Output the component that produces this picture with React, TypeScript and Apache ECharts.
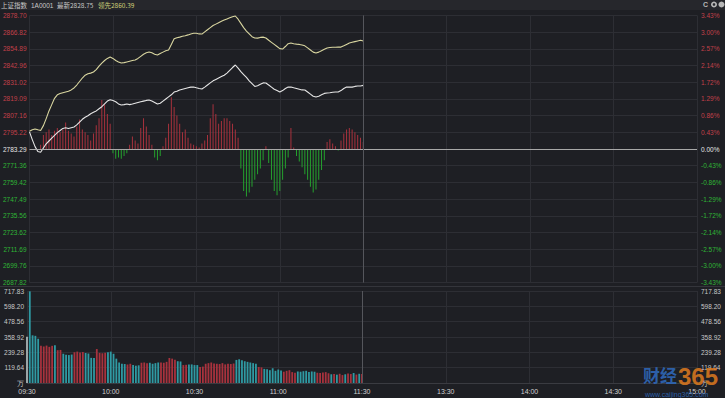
import React, { useEffect, useRef } from "react";
import * as echarts from "echarts";

const PREV_CLOSE = 2783.29;
const STEP = 11.93;
const VOL_MAX = 717.83;

const priceTicks = ["2687.82", "2699.76", "2711.69", "2723.62", "2735.56", "2747.49", "2759.42", "2771.36", "2783.29", "2795.22", "2807.16", "2819.09", "2831.02", "2842.96", "2854.89", "2866.82", "2878.70"];
const pctTicks = ["-3.43%", "-3.00%", "-2.57%", "-2.14%", "-1.72%", "-1.29%", "-0.86%", "-0.43%", "0.00%", "0.43%", "0.86%", "1.29%", "1.72%", "2.14%", "2.57%", "3.00%", "3.43%"];
const volTicks = ["万", "119.64", "239.28", "358.92", "478.56", "598.20", "717.83"];
const timeTicks = ["09:30", "10:00", "10:30", "11:00", "11:30", "13:30", "14:00", "14:30", "15:00"];

// 上证指数 minute price, 09:30 - 11:30
const priceLine = [
  2795.5, 2790, 2785, 2781.5, 2781, 2784, 2787, 2789, 2791, 2793,
  2795, 2796.5, 2798, 2798.5, 2798, 2798.5, 2799, 2800.5, 2802.5, 2804.5,
  2806, 2807, 2808.5, 2809.5, 2810.5, 2812, 2813.5, 2815.5, 2817.5, 2818.5,
  2818, 2817, 2815.5, 2814.7, 2815, 2815.5, 2815, 2815.4, 2816, 2816.5,
  2817, 2817.5, 2818, 2818.3, 2817.5, 2816.5, 2815.4, 2816, 2817.5, 2819,
  2820.5, 2822, 2824, 2824.5, 2825.5, 2826, 2826.5, 2827, 2827.5, 2827.6,
  2827, 2826.5, 2826.1, 2827.5, 2829, 2830.5, 2832, 2833, 2834, 2835,
  2836, 2837.5, 2839.5, 2841.5, 2843.3, 2841, 2838.5, 2836.5, 2834.5, 2832,
  2830, 2828, 2828.5, 2829.5, 2830.5, 2830.4, 2829, 2827.5, 2826, 2825,
  2824, 2825, 2826.5, 2827.5, 2827.6, 2827, 2826.5, 2826, 2825.5, 2825.4,
  2824, 2822.5, 2821, 2820.4, 2821, 2822, 2823, 2823.3, 2823.5, 2823.8,
  2824, 2824, 2825, 2826.5, 2827.5, 2827.6, 2827.5, 2828, 2828.3, 2828.3,
  2828.75
];

// 领先指标
const leadLine = [
  2796, 2797, 2797.6, 2797, 2796.5, 2800, 2805, 2810.5, 2815, 2819.5,
  2822, 2823, 2823.5, 2824, 2824.5, 2825.5, 2826.9, 2829, 2831.5, 2834,
  2836, 2837, 2837.5, 2838.3, 2840, 2842.5, 2844.7, 2846.5, 2848, 2849,
  2848, 2846.5, 2845.5, 2844.7, 2845, 2845.5, 2846, 2846.5, 2846.9, 2848,
  2849.5, 2851, 2852, 2852.6, 2852, 2851, 2850.4, 2851.5, 2852.5, 2853.5,
  2854, 2858, 2862, 2862.8, 2863.2, 2863.8, 2864.2, 2864.8, 2865.5, 2866,
  2866, 2865.5, 2865.4, 2867, 2868.5, 2870, 2871.5, 2872.5, 2873.5, 2874.5,
  2875.4, 2876.2, 2877, 2877.8, 2878.3, 2876, 2873, 2870, 2867.5, 2865.5,
  2863.5, 2862.6, 2862.5, 2863, 2863.2, 2862.6, 2861, 2859.5, 2858, 2856.5,
  2855, 2854.7, 2856.5, 2858.5, 2859, 2858.5, 2858.2, 2858, 2857.6, 2857,
  2855.5, 2854, 2852.5, 2851.9, 2852.5, 2853.5, 2854.5, 2855.4, 2855.8, 2856,
  2856, 2856.1, 2856.1, 2857, 2858, 2859, 2859.5, 2860, 2860.5, 2861,
  2860.39
];

// red / green strength bars (index points from the previous close)
const force = [
  0, 0, 0, 0, 3, 10, 12, 14, 10, 13,
  15, 12, 14, 19, 13, 11, 9, 16, 21, 14,
  12, 10, 6, 11, 17, 22, 35, 32, 25, 18,
  -3, -7, -6, -7, -5, -3, 3, 9, 6, 4,
  15, 22, 16, 10, 3, -6, -8, -5, 2, 8,
  18, 37, 30, 24, 18, 12, 14, 8, 4, 3,
  2, 1, 4, 6, 10, 22, 32, 25, 18, 20,
  22, 22, 20, 18, 14, 8, -14, -30, -34, -31,
  -27, -22, -18, -14, -8, 2, -10, -22, -30, -33,
  -30, -22, -14, -6, 15, 1, -5, -9, -13, -18,
  -22, -27, -31, -29, -22, -15, -8, 5, 7, 4,
  2, -1, 6, 11, 14, 15, 14, 12, 10, 8,
  5
];

// volume (万)
const volume = [
  360, 715, 372, 368, 345, 290, 285, 292, 282, 290,
  294, 256, 258, 228, 220, 218, 222, 240, 245, 238,
  242, 234, 230, 196, 195, 265, 235, 232, 236, 240,
  245, 228, 190, 160, 150, 148, 145, 150, 140, 135,
  138, 158, 160, 155, 158, 150, 155, 160, 160, 158,
  165, 195, 190, 182, 170, 168, 140, 142, 145, 145,
  140, 140, 125, 128, 150, 155, 160, 152, 150, 148,
  155, 145, 150, 148, 152, 180, 185, 178, 170, 165,
  160, 155, 150, 125, 122, 110, 108, 100, 115, 95,
  105, 98, 88, 95, 100, 85, 80, 90, 88, 92,
  95, 85, 90, 88, 80, 78, 82, 85, 76, 68,
  70, 65, 72, 62, 68, 75, 70, 78, 66, 72,
  70
];

// 1 = up (red), 0 = down (teal), 2 = neutral
const volDir = [
  2, 0, 0, 0, 0, 1, 1, 1, 1, 1,
  0, 1, 1, 0, 0, 0, 0, 1, 1, 1,
  1, 0, 0, 0, 0, 1, 1, 1, 1, 0,
  0, 0, 0, 0, 0, 0, 1, 1, 0, 0,
  0, 1, 1, 1, 0, 0, 0, 0, 1, 1,
  1, 1, 1, 1, 0, 0, 1, 1, 0, 0,
  0, 0, 1, 1, 1, 1, 1, 1, 1, 1,
  1, 1, 1, 1, 1, 0, 0, 0, 0, 0,
  0, 0, 0, 1, 1, 0, 0, 0, 0, 0,
  0, 0, 1, 1, 1, 1, 1, 0, 0, 0,
  0, 0, 0, 0, 1, 1, 1, 1, 1, 0,
  1, 0, 1, 1, 0, 1, 1, 0, 1, 0,
  1
];

const BG = "#1e1f24";
const GRID = "#2d2e34";
const RED = "#c2404a";
const GREEN = "#2fb536";
const BAR_RED = "#a8323d";
const BAR_GREEN = "#25a12e";
const TEAL = "#2f9aa3";
const FONT = "'Liberation Sans', Arial, sans-serif";

function buildTimes(): string[] {
  const out: string[] = [];
  const pad = (n: number) => (n < 10 ? "0" + n : "" + n);
  for (let m = 9 * 60 + 30; m <= 11 * 60 + 30; m++) out.push(pad(Math.floor(m / 60)) + ":" + pad(m % 60));
  for (let m = 13 * 60 + 1; m <= 15 * 60; m++) out.push(pad(Math.floor(m / 60)) + ":" + pad(m % 60));
  return out;
}

export default function App() {
  const ref = useRef<HTMLDivElement>(null);
  useEffect(() => {
    if (!ref.current) return;
    const chart = echarts.init(ref.current, null, { renderer: "svg" });
    const times = buildTimes();
    const tickIdx = (i: number) => i % 30 === 0;
    const volStep = VOL_MAX / 6;

    const xCommon = (grid: number, showLabel: boolean) => ({
      type: "category",
      gridIndex: grid,
      data: times,
      boundaryGap: false,
      axisLine: { show: showLabel, lineStyle: { color: "#3a3b41" } },
      axisTick: { show: false },
      axisLabel: {
        show: showLabel,
        interval: (i: number, v: string) => timeTicks.indexOf(v) >= 0,
        color: "#d0d0d0",
        fontSize: 7,
        fontFamily: FONT,
        margin: 5,
      },
      splitLine: { show: true, interval: (i: number) => tickIdx(i), lineStyle: { color: GRID, width: 1 } },
    });

    const priceColor = (v: any) => {
      const n = Number(v);
      return n > 0.01 ? RED : n < -0.01 ? GREEN : "#e6e6e6";
    };

    const option: any = {
      animation: false,
      backgroundColor: BG,
      grid: [
        { left: 27, right: 28, top: 15.4, height: 267.2 },
        { left: 27, right: 28, top: 291, height: 92 },
      ],
      xAxis: [xCommon(0, false), xCommon(1, true)],
      yAxis: [
        {
          type: "value", gridIndex: 0, position: "left", min: -8, max: 8, interval: 1,
          axisLine: { show: false }, axisTick: { show: false },
          axisLabel: { formatter: (v: number) => priceTicks[Math.round(v) + 8], color: priceColor, fontSize: 6.5, fontFamily: FONT, margin: 3 },
          splitLine: { show: true, lineStyle: { color: GRID } },
        },
        {
          type: "value", gridIndex: 0, position: "right", min: -8, max: 8, interval: 1,
          axisLine: { show: false }, axisTick: { show: false },
          axisLabel: { formatter: (v: number) => pctTicks[Math.round(v) + 8], color: priceColor, fontSize: 6.5, fontFamily: FONT, margin: 4 },
          splitLine: { show: false },
        },
        {
          type: "value", gridIndex: 1, position: "left", min: 0, max: VOL_MAX, interval: volStep,
          axisLine: { show: false }, axisTick: { show: false },
          axisLabel: { formatter: (v: number) => volTicks[Math.round(v / volStep)], color: "#c8c8c8", fontSize: 6.5, fontFamily: FONT, margin: 3 },
          splitLine: { show: true, lineStyle: { color: GRID } },
        },
        {
          type: "value", gridIndex: 1, position: "right", min: 0, max: VOL_MAX, interval: volStep,
          axisLine: { show: false }, axisTick: { show: false },
          axisLabel: { formatter: (v: number) => volTicks[Math.round(v / volStep)], color: "#c8c8c8", fontSize: 6.5, fontFamily: FONT, margin: 4 },
          splitLine: { show: false },
        },
      ],
      series: [
        {
          type: "bar", xAxisIndex: 0, yAxisIndex: 0, barWidth: 1, silent: true,
          data: force.map((v) => ({ value: v / STEP, itemStyle: { color: v >= 0 ? BAR_RED : BAR_GREEN } })),
          markLine: {
            silent: true, symbol: "none", label: { show: false },
            data: [
              { yAxis: 0, lineStyle: { color: "#a8a8a8", width: 1, type: "solid" } },
              { xAxis: "11:30", lineStyle: { color: "#55565c", width: 1, type: "solid" } },
            ],
          },
        },
        {
          type: "line", xAxisIndex: 0, yAxisIndex: 0, symbol: "none", silent: true,
          lineStyle: { color: "#d9d6a0", width: 1.1 },
          data: leadLine.map((v) => (v - PREV_CLOSE) / STEP),
        },
        {
          type: "line", xAxisIndex: 0, yAxisIndex: 0, symbol: "none", silent: true,
          lineStyle: { color: "#e6e6e6", width: 1.1 },
          data: priceLine.map((v) => (v - PREV_CLOSE) / STEP),
        },
        {
          type: "bar", xAxisIndex: 1, yAxisIndex: 2, barWidth: 1.8, silent: true,
          data: volume.map((v, i) => ({ value: v, itemStyle: { color: volDir[i] === 1 ? BAR_RED : volDir[i] === 0 ? TEAL : "#aab4b6" } })),
          markLine: {
            silent: true, symbol: "none", label: { show: false },
            data: [{ xAxis: "11:30", lineStyle: { color: "#55565c", width: 1, type: "solid" } }],
          },
        },
      ],
      graphic: [
        { type: "rect", left: 0, top: 0, shape: { width: 725, height: 10 }, style: { fill: "#26272c" }, z: 1 },
        { type: "line", shape: { x1: 0, y1: 286.5, x2: 725, y2: 286.5 }, style: { stroke: "#34353b", lineWidth: 1 }, z: 1 },
        { type: "text", left: 1, top: 1.5, style: { text: "上证指数", fill: "#c8c8c8", fontSize: 6.5, fontFamily: "'Noto Sans CJK SC', sans-serif" }, z: 10 },
        { type: "text", left: 31, top: 1.5, style: { text: "1A0001", fill: "#c8c8c8", fontSize: 6.5, fontFamily: FONT }, z: 10 },
        { type: "text", left: 57, top: 1.5, style: { text: "最新2828.75", fill: "#c8c8c8", fontSize: 6.5, fontFamily: "'Noto Sans CJK SC', sans-serif" }, z: 10 },
        { type: "text", left: 98, top: 1.5, style: { text: "领先2860.39", fill: "#cfcf78", fontSize: 6.5, fontFamily: "'Noto Sans CJK SC', sans-serif" }, z: 10 },
        { type: "text", left: 703, top: 1, style: { text: "C", fill: "#b8b8b8", fontSize: 7, fontFamily: FONT, fontWeight: "bold" }, z: 10 },
        { type: "ring", shape: { cx: 714, cy: 4.5, r: 3, r0: 1.3 }, style: { fill: "#b8b8b8" }, z: 10 },
        { type: "circle", shape: { cx: 721.5, cy: 4.5, r: 3 }, style: { fill: "#b8b8b8" }, z: 10 },
        { type: "text", left: 643, top: 366, style: { text: "财经", fill: "#2f6cc0", fontSize: 17, fontWeight: "bold", fontFamily: "'Noto Sans CJK SC', sans-serif", opacity: 0.85 }, z: 20 },
        { type: "text", left: 678, top: 364, style: { text: "365", fill: "#e07b1f", fontSize: 24, fontWeight: "bold", fontFamily: FONT, opacity: 0.85 }, z: 20 },
        { type: "text", left: 645, top: 391, style: { text: "www.caijing365.com", fill: "#2f6cc0", fontSize: 7, fontFamily: FONT, opacity: 0.85 }, z: 20 },
      ],
    };
    chart.setOption(option);
    return () => chart.dispose();
  }, []);
  return <div ref={ref} style={{ position: "fixed", left: 0, top: 0, width: 725, height: 398, background: BG }} />;
}
